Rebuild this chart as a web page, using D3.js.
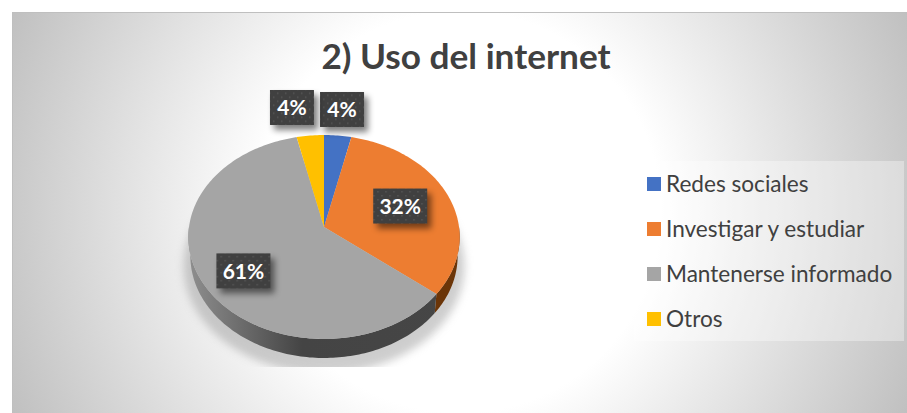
<!DOCTYPE html>
<html>
<head>
<meta charset="utf-8">
<script src="https://cdn.jsdelivr.net/npm/d3@7"></script>
<style>
  html, body { margin: 0; padding: 0; background: #fff; }
  text { font-family: Lato, "Open Sans", sans-serif; }
</style>
</head>
<body>
<div id="chart"></div>
<script>
var categories = ["Redes sociales", "Investigar y estudiar", "Mantenerse informado", "Otros"];
var counts = [1, 9, 17, 1];
var colors = ["#4472c4", "#ed7d31", "#a5a5a5", "#ffc000"];
var title = "2) Uso del internet";

var width = 907, height = 413;
var cx = 324, cy = 227, rx = 135, ry = 101, tilt = 0.098, depth = 19;

var svg = d3.select("#chart").append("svg")
	.attr("width", width)
	.attr("height", height)
	.style("display", "block");

var defs = svg.append("defs");

var bg = defs.append("radialGradient")
	.attr("id", "bg")
	.attr("gradientUnits", "userSpaceOnUse")
	.attr("cx", 460).attr("cy", 212).attr("r", 490);
bg.append("stop").attr("offset", "0.41").attr("stop-color", "#ffffff");
bg.append("stop").attr("offset", "1").attr("stop-color", "#c0c0c0");

var side = defs.append("linearGradient")
	.attr("id", "sideGray")
	.attr("gradientUnits", "userSpaceOnUse")
	.attr("x1", cx - rx).attr("x2", cx + rx).attr("y1", 0).attr("y2", 0);
side.append("stop").attr("offset", "0").attr("stop-color", "#8e8e8e");
side.append("stop").attr("offset", "0.42").attr("stop-color", "#444444");
side.append("stop").attr("offset", "1").attr("stop-color", "#464646");

defs.append("filter").attr("id", "blur").attr("x", "-20%").attr("y", "-20%").attr("width", "140%").attr("height", "140%")
	.append("feGaussianBlur").attr("stdDeviation", 4);
defs.append("filter").attr("id", "blurSmall").attr("x", "-30%").attr("y", "-30%").attr("width", "160%").attr("height", "160%")
	.append("feGaussianBlur").attr("stdDeviation", 3);

defs.append("clipPath").attr("id", "shadowClip")
	.append("rect").attr("x", 0).attr("y", 0).attr("width", width).attr("height", 367);

var dots = defs.append("pattern")
	.attr("id", "dots")
	.attr("patternUnits", "userSpaceOnUse")
	.attr("width", 8).attr("height", 8);
dots.append("rect").attr("width", 8).attr("height", 8).attr("fill", "#404040");
dots.append("rect").attr("x", 1).attr("y", 1).attr("width", 1.5).attr("height", 1.5).attr("fill", "#555555");
dots.append("rect").attr("x", 5).attr("y", 5).attr("width", 1.5).attr("height", 1.5).attr("fill", "#555555");

// chart area
svg.append("rect")
	.attr("x", 12.5).attr("y", 12.5)
	.attr("width", width - 12).attr("height", height - 12)
	.attr("fill", "url(#bg)")
	.attr("stroke", "#bfbfbf");

svg.append("text")
	.attr("x", 466)
	.attr("y", 69)
	.attr("text-anchor", "middle")
	.attr("font-size", 35.2)
	.attr("font-weight", 700)
	.attr("fill", "#404040")
	.text(title);

// pie angles, then a perspective projection of the unit circle
var total = d3.sum(counts);
var pie = d3.pie().sort(null)(counts);

function project(a, r, drop) {
	var u = Math.sin(a) * r, v = -Math.cos(a) * r, w = 1 - tilt * v;
	var k = drop ? 0.985 : 1;
	return [cx + k * rx * u / w, cy + ry * v / w + (drop || 0)];
}

function arcPoints(a0, a1, r, drop) {
	var n = Math.max(2, Math.ceil((a1 - a0) / 0.02));
	return d3.range(n + 1).map(function(i) {
		return project(a0 + (a1 - a0) * i / n, r, drop);
	});
}

var line = d3.line();

// soft shadow under the pie
svg.append("g")
	.attr("clip-path", "url(#shadowClip)")
	.append("path")
	.attr("d", line(arcPoints(0, Math.PI * 2, 1.05, 28)) + "Z")
	.attr("fill", "#9c9c9c")
	.attr("opacity", 0.5)
	.attr("filter", "url(#blur)");

// side wall, only the front half shows
var sideSlices = pie.filter(function(d) {
	return d.endAngle > Math.PI / 2 && d.startAngle < Math.PI * 1.5;
});
svg.selectAll(".wall")
	.data(sideSlices)
	.enter()
	.append("path")
	.attr("class", "wall")
	.attr("d", function(d) {
		var a0 = Math.max(d.startAngle, Math.PI / 2), a1 = Math.min(d.endAngle, Math.PI * 1.5);
		return line(arcPoints(a0, a1, 1).concat(arcPoints(a0, a1, 1, depth).reverse())) + "Z";
	})
	.attr("fill", function(d) {
		return d.index === 1 ? "#6b3508" : "url(#sideGray)";
	});

svg.selectAll(".slice")
	.data(pie)
	.enter()
	.append("path")
	.attr("class", "slice")
	.attr("d", function(d) {
		return line([[cx, cy]].concat(arcPoints(d.startAngle, d.endAngle, 1))) + "Z";
	})
	.attr("fill", function(d, i) { return colors[i]; });

// data labels
var labelR = [1.3, 0.61, 0.68, 1.3];
var labelNudge = [[0.6, -1.7], [0, -1], [0, 6], [-14.6, -3.7]];
var pct = d3.format(".0%");

var labels = svg.selectAll(".label")
	.data(pie)
	.enter()
	.append("g")
	.attr("class", "label")
	.attr("transform", function(d, i) {
		var p = project((d.startAngle + d.endAngle) / 2, labelR[i]);
		return "translate(" + (p[0] + labelNudge[i][0]) + "," + (p[1] + labelNudge[i][1]) + ")";
	});

function boxW(d) { return d.value > 5 ? 54 : 44; }

labels.append("rect")
	.attr("x", function(d) { return -boxW(d) / 2 + 4; })
	.attr("y", -17.5 + 5)
	.attr("width", boxW)
	.attr("height", 35)
	.attr("fill", "#000")
	.attr("opacity", 0.5)
	.attr("filter", "url(#blurSmall)");

labels.append("rect")
	.attr("x", function(d) { return -boxW(d) / 2; })
	.attr("y", -17.5)
	.attr("width", boxW)
	.attr("height", 35)
	.attr("fill", "url(#dots)");

labels.append("text")
	.attr("text-anchor", "middle")
	.attr("y", 8)
	.attr("font-size", 21)
	.attr("font-weight", 700)
	.attr("fill", "#fff")
	.text(function(d) { return pct(d.value / total); });

// legend
svg.append("rect")
	.attr("x", 634).attr("y", 161)
	.attr("width", 270).attr("height", 180)
	.attr("fill", "#fff")
	.attr("opacity", 0.35);

var legendY = d3.scalePoint()
	.domain(categories)
	.range([184, 319]);

var legend = svg.selectAll(".legend")
	.data(categories)
	.enter()
	.append("g")
	.attr("class", "legend")
	.attr("transform", function(d) { return "translate(647," + legendY(d) + ")"; });

legend.append("rect")
	.attr("y", -7)
	.attr("width", 14)
	.attr("height", 14)
	.attr("fill", function(d, i) { return colors[i]; });

legend.append("text")
	.attr("x", 19)
	.attr("y", 7.5)
	.attr("font-size", 22.6)
	.attr("fill", "#404040")
	.text(function(d) { return d; });
</script>
</body>
</html>
